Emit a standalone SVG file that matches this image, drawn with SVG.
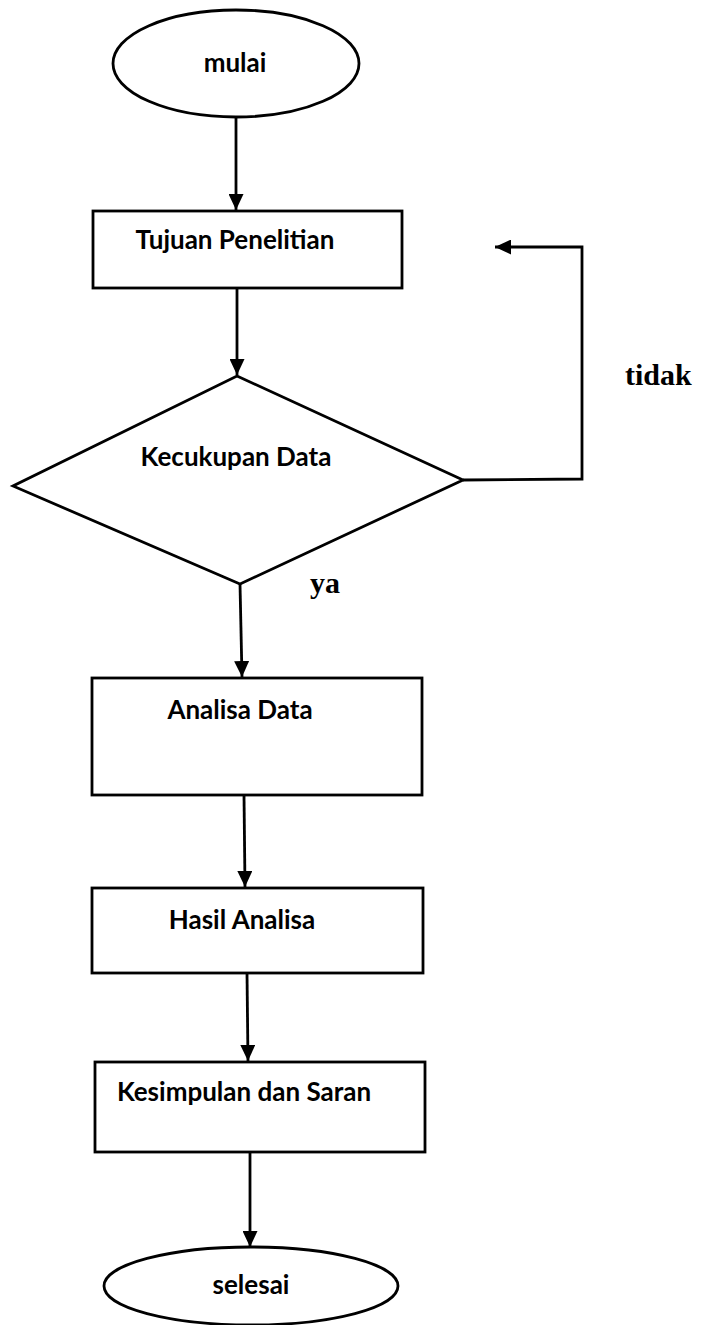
<svg xmlns="http://www.w3.org/2000/svg" width="721" height="1325" viewBox="0 0 721 1325">
<style>
.shape{fill:#fff;stroke:#000;stroke-width:2.8}
.line{fill:none;stroke:#000;stroke-width:2.8}
.lbl{font-family:Lato,"Liberation Sans",sans-serif;font-weight:bold;font-size:26px;fill:#000;text-anchor:middle}
.note{font-family:"Liberation Serif",serif;font-weight:bold;font-size:30px;fill:#000}
</style>
<defs>
<marker id="ah" viewBox="0 0 16 15" refX="16" refY="7.5" markerWidth="16" markerHeight="15" markerUnits="userSpaceOnUse" orient="auto">
<path d="M0,0 L16,7.5 L0,15 Z" fill="#000"/>
</marker>
</defs>
<rect width="721" height="1325" fill="#fff"/>
<g id="connectors">
<path class="line" d="M236,117 L236,210" marker-end="url(#ah)"/>
<path class="line" d="M237,288 L237,375" marker-end="url(#ah)"/>
<path class="line" d="M240,584 L242,677" marker-end="url(#ah)"/>
<path class="line" d="M244,795 L245,887" marker-end="url(#ah)"/>
<path class="line" d="M247,973 L248,1061" marker-end="url(#ah)"/>
<path class="line" d="M250,1152 L250,1247" marker-end="url(#ah)"/>
<path class="line" d="M463,480 L582,479 L582,247 L495,247" marker-end="url(#ah)"/>
</g>
<g id="mulai">
<ellipse class="shape" cx="236" cy="63.5" rx="123" ry="53.5"/>
<text class="lbl" x="235" y="72">mulai</text>
</g>
<g id="tujuan">
<rect class="shape" x="93" y="211" width="309" height="77"/>
<text class="lbl" x="235" y="249">Tujuan Penelitian</text>
</g>
<g id="kecukupan">
<polygon class="shape" points="237,376 463,480 240,584 13,486"/>
<text class="lbl" x="236" y="466">Kecukupan Data</text>
</g>
<g id="analisa">
<rect class="shape" x="92" y="678" width="330" height="117"/>
<text class="lbl" x="240" y="719">Analisa Data</text>
</g>
<g id="hasil">
<rect class="shape" x="92" y="888" width="331" height="85"/>
<text class="lbl" x="242" y="929">Hasil Analisa</text>
</g>
<g id="kesimpulan">
<rect class="shape" x="95" y="1062" width="330" height="90"/>
<text class="lbl" x="244" y="1101">Kesimpulan dan Saran</text>
</g>
<g id="selesai">
<ellipse class="shape" cx="251" cy="1286" rx="147" ry="39"/>
<text class="lbl" x="251" y="1294">selesai</text>
</g>
<g id="labels">
<text class="note" x="625" y="385">tidak</text>
<text class="note" x="310" y="593">ya</text>
</g>
</svg>
